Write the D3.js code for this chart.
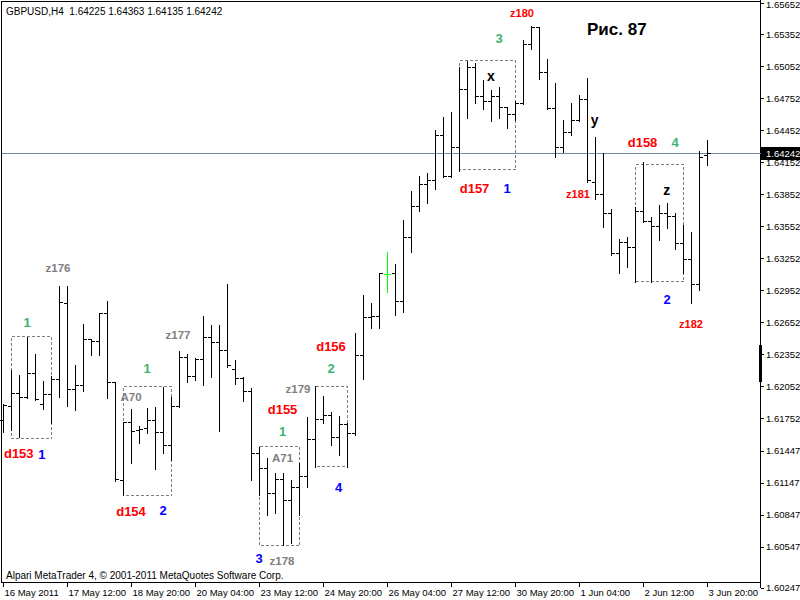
<!DOCTYPE html>
<html><head><meta charset="utf-8">
<script src="https://cdn.jsdelivr.net/npm/d3@7"></script>
<style>
body{margin:0;background:#fff}
svg{display:block}
text{font-family:"Liberation Sans",Arial,sans-serif}
</style>
</head><body>
<svg id="c" width="800" height="600"></svg>
<script>
// ---------------- DATA ----------------
const symbolInfo = "GBPUSD,H4  1.64225 1.64363 1.64135 1.64242";
const copyrightText = "Alpari MetaTrader 4, \u00A9 2001-2011 MetaQuotes Software Corp.";
const figureTitle = "Рис. 87";

const opens = [1.61739,1.61864,1.61990,1.61952,1.62177,1.61889,1.61980,1.62121,1.62834,1.62027,
1.62065,1.62490,1.62480,1.62740,1.62093,1.61169,1.61717,1.61639,1.61655,1.61739,
1.61624,1.61504,1.61864,1.62327,1.62145,1.62311,1.62515,1.62464,1.62389,1.62215,
1.62124,1.62005,1.61420,1.61286,1.61051,1.61183,1.60988,1.61107,1.61213,1.61558,
1.61746,1.61777,1.61577,1.61701,1.61608,1.62346,1.62703,1.62708,1.63109,1.63116,
1.62853,1.63456,1.63744,1.63951,1.63988,1.64404,1.64022,1.64298,1.64842,1.65045,
1.64779,1.64730,1.64773,1.64670,1.64610,1.64711,1.65265,1.65424,1.65002,1.64664,
1.64298,1.64439,1.64548,1.64748,1.63970,1.63857,1.63679,1.63303,1.63407,1.63360,
1.63691,1.63600,1.63559,1.63679,1.63647,1.63397,1.63247,1.63015,1.64225];
const highs = [1.61889,1.62208,1.62161,1.62521,1.62358,1.62105,1.62152,1.62996,1.62996,1.62255,
1.62640,1.62496,1.62746,1.62858,1.62098,1.61720,1.61845,1.61685,1.61854,1.61864,
1.62051,1.61952,1.62386,1.62358,1.62318,1.62715,1.62630,1.62630,1.63015,1.62302,
1.62140,1.62036,1.61488,1.61380,1.61244,1.61244,1.61173,1.61333,1.61770,1.62058,
1.61964,1.61811,1.61777,1.61711,1.62553,1.62912,1.62840,1.63121,1.63315,1.63203,
1.63616,1.63888,1.64029,1.64054,1.64460,1.64579,1.64626,1.65054,1.65111,1.65086,
1.64930,1.64833,1.64864,1.64675,1.64735,1.65305,1.65439,1.65430,1.65127,1.64899,
1.64554,1.64711,1.64789,1.64945,1.64392,1.64247,1.63719,1.63435,1.63459,1.63741,
1.64157,1.63647,1.63757,1.63772,1.63679,1.63569,1.63503,1.64266,1.64363];
const lows = [1.61626,1.61645,1.61582,1.61943,1.61927,1.61839,1.61708,1.61952,1.61873,1.61833,
1.62014,1.62352,1.62352,1.61943,1.61170,1.61035,1.61333,1.61526,1.61614,1.61276,
1.61426,1.61364,1.61857,1.62098,1.62114,1.62065,1.62145,1.61639,1.62233,1.62077,
1.61920,1.61176,1.61035,1.60847,1.60863,1.60566,1.60585,1.60847,1.61113,1.61301,
1.61708,1.61504,1.61408,1.61301,1.61598,1.62121,1.62602,1.62602,1.62943,1.62727,
1.62755,1.63318,1.63703,1.63778,1.63904,1.64019,1.64015,1.64076,1.64570,1.64717,
1.64655,1.64548,1.64570,1.64476,1.64554,1.64701,1.65218,1.64936,1.64657,1.64210,
1.64257,1.64413,1.64545,1.63975,1.63810,1.63553,1.63287,1.63121,1.63178,1.63037,
1.63594,1.63037,1.63428,1.63538,1.63341,1.63121,1.62840,1.62959,1.64135];
const closes = [1.61873,1.61990,1.61952,1.62171,1.61933,1.61980,1.62121,1.62846,1.62027,1.62065,
1.62490,1.62480,1.62740,1.62093,1.61176,1.61717,1.61629,1.61652,1.61739,1.61624,
1.61504,1.61864,1.62327,1.62145,1.62311,1.62515,1.62464,1.62389,1.62255,1.62124,
1.62005,1.61420,1.61286,1.61051,1.61183,1.60988,1.61107,1.61213,1.61558,1.61746,
1.61777,1.61577,1.61701,1.61608,1.62346,1.62703,1.62708,1.63116,1.63109,1.62853,
1.63456,1.63744,1.63951,1.63988,1.64407,1.64022,1.64298,1.64842,1.65045,1.64779,
1.64730,1.64773,1.64670,1.64610,1.64711,1.65265,1.65424,1.65002,1.64664,1.64298,
1.64439,1.64548,1.64748,1.63982,1.63857,1.63679,1.63303,1.63407,1.63360,1.63691,
1.63600,1.63559,1.63679,1.63647,1.63397,1.63247,1.63015,1.64204,1.64242];

const timeLabels = ["16 May 2011","17 May 12:00","18 May 20:00","20 May 04:00","23 May 12:00",
  "24 May 20:00","26 May 04:00","27 May 12:00","30 May 20:00","1 Jun 04:00","2 Jun 12:00","3 Jun 20:00"];
const timeLabelBars = [0,8,16,24,32,40,48,56,64,72,80,88];

const priceTicks = [1.65652,1.65352,1.65052,1.64752,1.64452,1.64152,1.63852,1.63552,1.63252,
  1.62952,1.62652,1.62352,1.62052,1.61752,1.61447,1.61147,1.60847,1.60547,1.60247];
const lastPrice = 1.64242;

// dashed boxes (bar index range, price range)
const boxStartBar = [1,15,32,39,57,79];
const boxEndBar   = [6,21,37,43,64,85];
const boxTopPrice = [1.62527,1.62058,1.61495,1.62058,1.65117,1.64141];
const boxBotPrice = [1.61570,1.61035,1.60566,1.61303,1.64085,1.63037];

// annotations: text, kind, bar position, baseline price
const annText  = ["1","z176","d153","1","1","A70","z177","d154","2","d155","1","A71","3","z178",
  "z179","d156","2","4","z180","3","x","d157","1","y","z181","d158","4","z","2","z182"];
const annKind  = ["green","gray","red","blue","green","gray","gray","red","blue","red","green","gray","blue","gray",
  "gray","red","green","blue","redSmall","green","black","red","blue","black","redSmall","red","green","black","blue","redSmall"];
const annBar   = [2.94,6.81,1.91,4.81,17.94,15.94,21.81,15.94,19.94,34.88,34.88,34.88,31.94,34.81,
  36.81,40.94,40.94,41.9,64.81,61.94,60.94,58.88,62.94,73.9,71.81,79.88,83.94,82.9,82.94,85.94];
const annPrice = [1.62612,1.63128,1.61382,1.61373,1.62180,1.61920,1.62496,1.60838,1.60847,1.61795,1.61589,1.61348,1.60397,1.60378,
  1.61990,1.62389,1.62183,1.61066,1.65521,1.65274,1.64920,1.63872,1.63869,1.64503,1.63825,1.64298,1.64298,1.63850,1.62827,1.62602];

// ---------------- STYLES ----------------
const kindStyle = {
  red:      {fill:"#ff0000", size:13},
  redSmall: {fill:"#ff0000", size:11},
  blue:     {fill:"#0000ff", size:13},
  green:    {fill:"#3cb371", size:13},
  gray:     {fill:"#808080", size:11.5},
  black:    {fill:"#000000", size:14}
};

// ---------------- CHART ----------------
const svg = d3.select("#c");
svg.append("rect").attr("width",800).attr("height",600).attr("fill","#fff");

const n = opens.length;
const x = d3.scaleLinear().domain([0, n-1]).range([3.5, 707.5]);
const y = d3.scaleLinear().domain([1.60247, 1.65652]).range([579, 3]);
const snap = v => Math.floor(v) + 0.5;

const axisX = 760.5, plotBottom = 582.5, yAxisBottom = 588;

// frame
const frame = svg.append("g").attr("stroke","#000").attr("stroke-width",1).attr("shape-rendering","crispEdges");
frame.append("line").attr("x1",1).attr("x2",axisX).attr("y1",1.5).attr("y2",1.5);
frame.append("line").attr("x1",1.5).attr("x2",1.5).attr("y1",1).attr("y2",plotBottom);
frame.append("line").attr("x1",1).attr("x2",axisX).attr("y1",plotBottom).attr("y2",plotBottom);
frame.append("line").attr("x1",axisX).attr("x2",axisX).attr("y1",0).attr("y2",yAxisBottom);

// current price line
svg.append("line").attr("x1",2).attr("x2",axisX)
  .attr("y1",snap(y(lastPrice))).attr("y2",snap(y(lastPrice)))
  .attr("stroke","#778899").attr("shape-rendering","crispEdges");

// dashed boxes
const boxes = d3.range(boxStartBar.length);
svg.append("g").selectAll("rect").data(boxes).join("rect")
  .attr("x", i => x(boxStartBar[i]))
  .attr("y", i => snap(y(boxTopPrice[i])))
  .attr("width", i => x(boxEndBar[i]) - x(boxStartBar[i]))
  .attr("height", i => snap(y(boxBotPrice[i])) - snap(y(boxTopPrice[i])))
  .attr("fill","none").attr("stroke","#808080").attr("stroke-dasharray","3,2")
  .attr("shape-rendering","crispEdges");

// OHLC bars
const bars = svg.append("g").attr("shape-rendering","crispEdges").attr("stroke-width",1);
const idx = d3.range(n);
const barColor = i => opens[i] === closes[i] ? "#00ff00" : "#000000";
bars.selectAll("line.hl").data(idx).join("line").attr("class","hl")
  .attr("x1", i => x(i)).attr("x2", i => x(i))
  .attr("y1", i => Math.round(y(highs[i])))
  .attr("y2", i => Math.round(y(lows[i])) + 1)
  .attr("stroke", barColor);
bars.selectAll("line.o").data(idx).join("line").attr("class","o")
  .attr("x1", i => x(i) - 3.5).attr("x2", i => x(i))
  .attr("y1", i => snap(y(opens[i]))).attr("y2", i => snap(y(opens[i])))
  .attr("stroke", barColor);
bars.selectAll("line.c").data(idx).join("line").attr("class","c")
  .attr("x1", i => x(i)).attr("x2", i => x(i) + 3.5)
  .attr("y1", i => snap(y(closes[i]))).attr("y2", i => snap(y(closes[i])))
  .attr("stroke", barColor);

// price axis
const yAx = svg.append("g");
const tickY = (v, i) => i === priceTicks.length - 1 ? yAxisBottom : y(v);
yAx.selectAll("line").data(priceTicks).join("line")
  .attr("x1", axisX).attr("x2", axisX + 3)
  .attr("y1", (v,i) => snap(tickY(v,i))).attr("y2", (v,i) => snap(tickY(v,i)))
  .attr("stroke","#000").attr("shape-rendering","crispEdges");
yAx.selectAll("text").data(priceTicks).join("text")
  .attr("x", 766).attr("y", (v,i) => Math.max(tickY(v,i), 5))
  .attr("dy","0.35em").attr("font-size",9.5).attr("fill","#000")
  .text(d3.format(".5f"));

// scrollbar-like marker on axis
svg.append("rect").attr("x",759).attr("y",345).attr("width",3).attr("height",37).attr("fill","#000");

// current price tag
const py = y(lastPrice);
svg.append("rect").attr("x",761).attr("y",Math.round(py)-6).attr("width",39).attr("height",13).attr("fill","#000");
svg.append("text").attr("x",766).attr("y",py).attr("dy","0.35em").attr("font-size",9.5)
  .attr("fill","#fff").text(d3.format(".5f")(lastPrice));

// time axis
const xAx = svg.append("g");
xAx.selectAll("line").data(timeLabelBars).join("line")
  .attr("x1", b => x(b)).attr("x2", b => x(b))
  .attr("y1", plotBottom).attr("y2", plotBottom + 4)
  .attr("stroke","#000").attr("shape-rendering","crispEdges");
xAx.selectAll("text").data(timeLabelBars).join("text")
  .attr("x", b => x(b) + 1).attr("y", 596)
  .attr("font-size",9.5).attr("fill","#000")
  .text((b,i) => timeLabels[i]);

// header and copyright
svg.append("text").attr("x",6).attr("y",15).attr("font-size",10)
  .attr("xml:space","preserve").style("white-space","pre").text(symbolInfo);
svg.append("text").attr("x",6).attr("y",578.5).attr("font-size",10).text(copyrightText);

// title
svg.append("text").attr("x",587).attr("y",35).attr("font-size",17).attr("font-weight","bold")
  .attr("fill","#000").text(figureTitle);

// annotations
svg.append("g").selectAll("text").data(d3.range(annText.length)).join("text")
  .attr("x", i => x(annBar[i])).attr("y", i => y(annPrice[i]))
  .attr("text-anchor","middle").attr("font-weight","bold")
  .attr("font-size", i => kindStyle[annKind[i]].size)
  .attr("fill", i => kindStyle[annKind[i]].fill)
  .text(i => annText[i]);
</script>
</body></html>
